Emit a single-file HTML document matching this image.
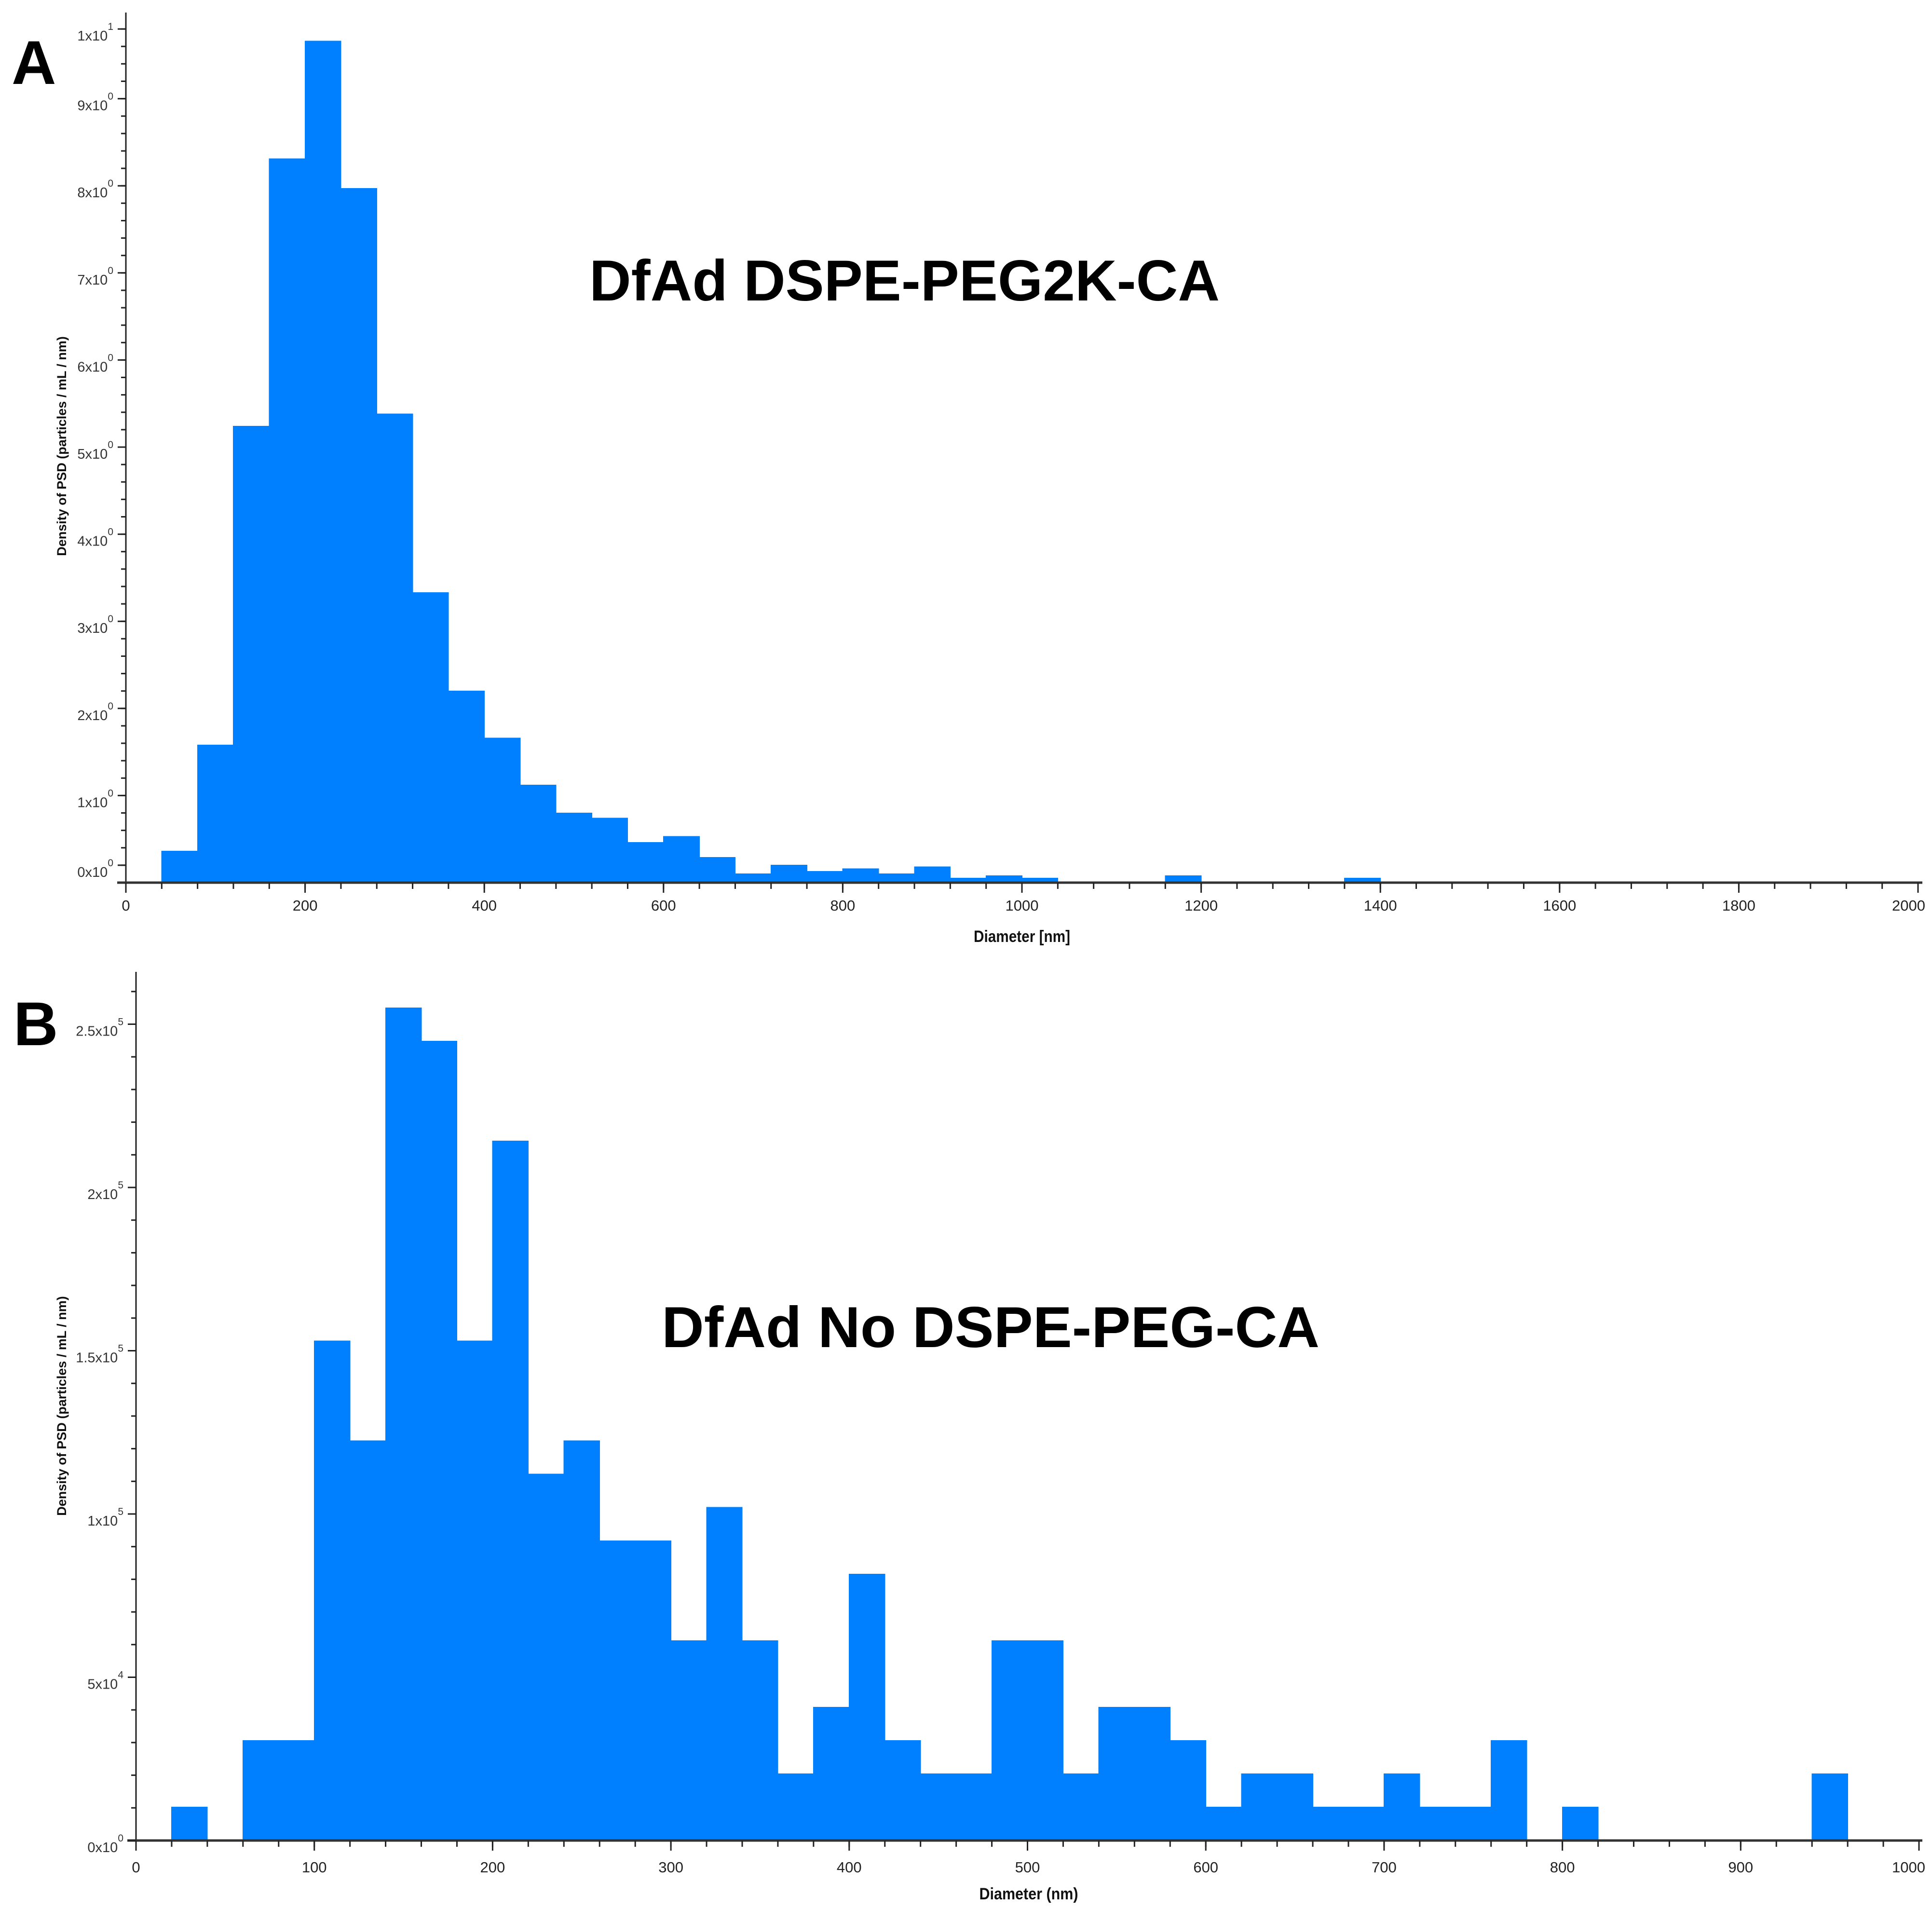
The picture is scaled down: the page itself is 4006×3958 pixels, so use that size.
<!DOCTYPE html>
<html><head><meta charset="utf-8"><style>
html,body{margin:0;padding:0;background:#fff;}
svg{display:block;}
text{font-family:"Liberation Sans",sans-serif;}
</style></head>
<body>
<svg id="fig" xmlns="http://www.w3.org/2000/svg" width="4006" height="3958" viewBox="0 0 4006 3958">
<rect width="4006" height="3958" fill="#fff"/>
<text x="24" y="174" font-size="128" font-weight="bold">A</text>
<text x="28" y="2167" font-size="128" font-weight="bold">B</text>
<text x="1222" y="623" font-size="120" font-weight="bold" textLength="1307" lengthAdjust="spacingAndGlyphs">DfAd DSPE-PEG2K-CA</text>
<text x="1372" y="2793" font-size="120" font-weight="bold" textLength="1364" lengthAdjust="spacingAndGlyphs">DfAd No DSPE-PEG-CA</text>
<g id="chartA"></g>
<g id="chartB"></g>
</svg>
<script>
// Panel A data (bins of 40 nm)
const binStartsA = [40,80,120,160,200,240,280,320,360,400,440,480,520,560,600,640,680,720,760,800,840,880,920,960,1000,1040,1080,1120,1160,1200,1240,1280,1320,1360];
const valuesA = [0.36,1.58,5.24,8.31,9.66,7.97,5.38,3.33,2.2,1.66,1.12,0.8,0.74,0.46,0.53,0.29,0.1,0.2,0.13,0.16,0.1,0.18,0.05,0.08,0.05,0,0,0,0.08,0,0,0,0,0.05];
const xTicksA = [0,200,400,600,800,1000,1200,1400,1600,1800,2000];
const yTickValsA = [0.2,1,2,3,4,5,6,7,8,9,9.8];
const yTickLabelsA = ["0x10","1x10","2x10","3x10","4x10","5x10","6x10","7x10","8x10","9x10","1x10"];
const yTickExpA = ["0","0","0","0","0","0","0","0","0","0","1"];

// Panel B data (bins of 20 nm)
const binStartsB = [20,40,60,80,100,120,140,160,180,200,220,240,260,280,300,320,340,360,380,400,420,440,460,480,500,520,540,560,580,600,620,640,660,680,700,720,740,760,780,800,820,840,860,880,900,920,940];
const valuesB = [10200,0,30600,30600,153000,122400,255000,244800,153000,214200,112200,122400,91800,91800,61200,102000,61200,20400,40800,81600,30600,20400,20400,61200,61200,20400,40800,40800,30600,10200,20400,20400,10200,10200,20400,10200,10200,30600,0,10200,0,0,0,0,0,0,20400];
const xTicksB = [0,100,200,300,400,500,600,700,800,900,1000];
const yTickValsB = [0,50000,100000,150000,200000,250000];
const yTickLabelsB = ["0x10","5x10","1x10","1.5x10","2x10","2.5x10"];
const yTickExpB = ["0","4","5","5","5","5"];

const NS = "http://www.w3.org/2000/svg";
function mk(tag, attrs, parent){
  const e = document.createElementNS(NS, tag);
  for (const k in attrs) e.setAttribute(k, attrs[k]);
  parent.appendChild(e);
  return e;
}

function drawChart(g, cfg){
  const sx = v => cfg.x0 + (v - cfg.xmin) * cfg.kx;
  const sy = v => cfg.y0 - v * cfg.ky;
  for (let i = 0; i < cfg.starts.length; i++){
    const v = cfg.values[i];
    if (v <= 0) continue;
    const x1 = sx(cfg.starts[i]), x2 = sx(cfg.starts[i] + cfg.binW);
    const r = mk('rect', {x:x1, y:sy(v), width:x2-x1, height:cfg.y0-sy(v), fill:'#0080ff', stroke:'#0080ff', 'stroke-width':1.5, 'shape-rendering':'crispEdges'}, g);
    
    
  }
  const ya = mk('line', {x1:cfg.x0, y1:cfg.axisTop, x2:cfg.x0, y2:cfg.y0+2, stroke:'#222', 'stroke-width':3}, g);
  
  
  const xa = mk('line', {x1:cfg.x0-18, y1:cfg.y0, x2:cfg.axisRight, y2:cfg.y0, stroke:'#333', 'stroke-width':5}, g);
  
  
  for (let v = cfg.xmin; v <= cfg.xmax + 0.001; v += cfg.xMinor){
    mk('line', {x1:sx(v), y1:cfg.y0, x2:sx(v), y2:cfg.y0+13, stroke:'#222', 'stroke-width':3}, g);
  }
  cfg.xTicks.forEach(v => {
    mk('line', {x1:sx(v), y1:cfg.y0, x2:sx(v), y2:cfg.y0+21, stroke:'#222', 'stroke-width':3}, g);
    let lx = sx(v), anchor = 'middle';
    if (lx + 40 > 4000){ lx = 3992; anchor = 'end'; }
    const t = mk('text', {x:lx, y:cfg.xLabelY, 'font-size':31, 'text-anchor':anchor, fill:'#222'}, g);
    t.textContent = String(v);
    
    
  });
  for (let v = cfg.yMinorStart; v <= cfg.yMax + 1e-6; v += cfg.yMinor){
    mk('line', {x1:cfg.x0-10, y1:sy(v), x2:cfg.x0, y2:sy(v), stroke:'#222', 'stroke-width':3}, g);
  }
  cfg.yTickVals.forEach((v, i) => {
    const y = sy(v);
    mk('line', {x1:cfg.x0-17, y1:y, x2:cfg.x0, y2:y, stroke:'#222', 'stroke-width':3}, g);
    const t = mk('text', {x:cfg.x0-26, y:y+24, 'font-size':29, 'text-anchor':'end', fill:'#333'}, g);
    
    
    const b = document.createElementNS(NS, 'tspan');
    b.textContent = cfg.yTickLabels[i];
    t.appendChild(b);
    const s = document.createElementNS(NS, 'tspan');
    s.setAttribute('dy', '-22');
    s.setAttribute('font-size', '21');
    s.textContent = cfg.yTickExp[i];
    t.appendChild(s);
  });
  const xt = mk('text', {x:cfg.xTitleX, y:cfg.xTitleY, 'font-size':34, 'font-weight':'bold', 'text-anchor':'middle', fill:'#111', textLength:cfg.xTitleLen, lengthAdjust:'spacingAndGlyphs'}, g);
  xt.textContent = cfg.xTitle;
  
  
  const yt = mk('text', {x:0, y:0, 'font-size':27, 'font-weight':'bold', 'text-anchor':'middle', fill:'#111', transform:`translate(${cfg.yTitleX},${cfg.yTitleY}) rotate(-90)`}, g);
  yt.textContent = 'Density of PSD (particles / mL / nm)';
  
  
}

drawChart(document.getElementById('chartA'), {
  starts:binStartsA, values:valuesA, binW:40,
  x0:261, xmin:0, xmax:2000, kx:1.858, xMinor:40, axisRight:3986,
  y0:1830, ky:180.6, axisTop:26, yMinorStart:0.2, yMinor:0.2, yMax:9.8,
  xTicks:xTicksA, xLabelY:1888,
  yTickVals:yTickValsA, yTickLabels:yTickLabelsA, yTickExp:yTickExpA,
  xTitle:'Diameter [nm]', xTitleX:2119, xTitleY:1953, xTitleLen:200,
  yTitleX:137, yTitleY:925
});
drawChart(document.getElementById('chartB'), {
  starts:binStartsB, values:valuesB, binW:20,
  x0:282, xmin:0, xmax:1000, kx:3.697, xMinor:20, axisRight:3986,
  y0:3816, ky:0.00677, axisTop:2015, yMinorStart:10000, yMinor:10000, yMax:260000,
  xTicks:xTicksB, xLabelY:3882,
  yTickVals:yTickValsB, yTickLabels:yTickLabelsB, yTickExp:yTickExpB,
  xTitle:'Diameter (nm)', xTitleX:2133, xTitleY:3938, xTitleLen:205,
  yTitleX:137, yTitleY:2915
});
</script>
</body></html>
